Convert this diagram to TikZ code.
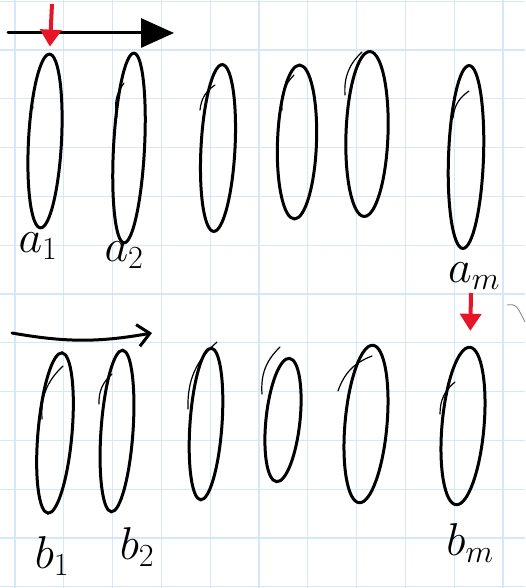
\RequirePackage{fix-cm}
\documentclass[tikz,border=0pt]{standalone}
\usepackage{tikz}
\usetikzlibrary{arrows.meta,shapes,positioning}
\definecolor{gridblue}{RGB}{212,232,250}
\definecolor{penred}{RGB}{232,20,40}

\begin{document}
\begin{tikzpicture}[x=1pt,y=-1pt]
\tikzstyle{every node}=[font=\fontsize{46}{48}\selectfont]
\tikzstyle{blob}=[draw, ellipse, line width=3pt, inner sep=0pt]
\tikzstyle{gridline}=[gridblue, line width=1.2pt]
\tikzstyle{pen}=[line width=3pt, line cap=round]
\tikzstyle{hook}=[line width=1.2pt, line cap=round, bend left=25]
\tikzstyle{redpen}=[penred, line width=4pt, -{Triangle[length=17pt,width=21pt]}]
\useasboundingbox (0,0) rectangle (525,588);
\fill[white] (0,0) rectangle (525,588);
\foreach \gx in {15,63.8,...,505} \draw[gridline] (\gx,0) -- (\gx,588);
\foreach \gy in {1.2,50,...,588} \draw[gridline] (0,\gy) -- (525,\gy);
% top row
\node[blob, minimum width=33pt, minimum height=174pt, rotate=-3] (a1) at (45,141) {};
\node[blob, minimum width=31pt, minimum height=190pt, rotate=-3] (a2) at (129,148) {};
\node[blob, minimum width=34pt, minimum height=167pt, rotate=-3] (a3) at (218,148) {};
\node[blob, minimum width=39pt, minimum height=154pt, rotate=-2] (a4) at (297,142) {};
\node[blob, minimum width=42pt, minimum height=165pt, rotate=-2] (a5) at (367,134) {};
\node[blob, minimum width=35pt, minimum height=183pt, rotate=-2] (am) at (466,157) {};
\node (la1) at (38,246) {$a_1$};
\node (la2) at (124,255) {$a_2$};
\node (lam) at (474,276) {$a_m$};
% bottom row
\node[blob, minimum width=34pt, minimum height=161pt, rotate=-5] (b1) at (55,433) {};
\node[blob, minimum width=32pt, minimum height=162pt, rotate=-4] (b2) at (117,431) {};
\node[blob, minimum width=32pt, minimum height=152pt, rotate=-4] (b3) at (206,424) {};
\node[blob, minimum width=34pt, minimum height=124pt, rotate=-6] (b4) at (283,420) {};
\node[blob, minimum width=42pt, minimum height=158pt, rotate=-5] (b5) at (366,424) {};
\node[blob, minimum width=42pt, minimum height=158pt, rotate=-5] (bm) at (463,426) {};
\node (lb1) at (52,556) {$b_1$};
\node (lb2) at (137,547) {$b_2$};
\node (lbm) at (470,543) {$b_m$};
% pen overlaps
\draw[hook] (33,108) to (34,96);
\draw[hook] (117,117) to (124,83);
\draw[hook] (200,110) to (215,85);
\draw[hook] (282,110) to (294,75);
\draw[hook] (345,95) to (362,52);
\draw[hook] (453,118) to (469,91);
\draw[hook] (42,419) to (63,366);
\draw[hook] (99,404) to (112,374);
\draw[hook] (188,409) to (217,342);
\draw[hook] (262,394) to (280,347);
\draw[hook] (338,391) to (372,356);
\draw[hook] (440,414) to (455,382);
% arrows
\coordinate (topL) at (8,33);
\coordinate (topR) at (174,33);
\draw[pen, -{Triangle[length=33pt,width=29pt]}] (topL) -- (topR);
\coordinate (redA) at (52,4);
\draw[redpen, shorten >=6pt] (redA) -- (a1.north);
\coordinate (botL) at (12,333);
\coordinate (botR) at (152,333);
\draw[pen, -{Straight Barb[length=12pt,width=22pt]}] (botL) to[bend right=10] (botR);
\coordinate (redB) at (471,293);
\draw[redpen, shorten >=15pt] (redB) -- (bm.north);
\draw[gray, line width=0.8pt] (507,305) .. controls (516,304) .. (525,322);
\end{tikzpicture}
\end{document}
